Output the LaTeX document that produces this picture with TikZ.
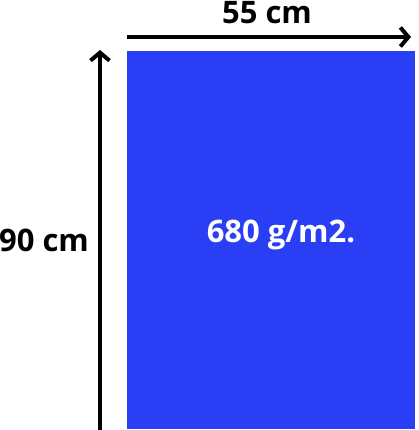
\documentclass[tikz,border=0pt]{standalone}
\usepackage{fontspec}
\setmainfont{Open Sans}
\usepackage{tikz}
\usetikzlibrary{arrows.meta}

\definecolor{sheetblue}{RGB}{42,62,245}
\tikzset{
  dimlabel/.style={font=\fontsize{31}{37}\selectfont\bfseries, inner sep=0pt, anchor=base},
  dimarrow/.style={line width=4pt, -{Straight Barb[length=8pt,width=19pt]}}
}

\begin{document}
\begin{tikzpicture}[x=1pt,y=1pt]
\useasboundingbox (0,0) rectangle (419,430);
\fill[sheetblue] (127,1) rectangle (415,379);

\coordinate (W0) at (127,393);
\coordinate (W1) at (411,393);
\coordinate (H0) at (100,0);
\coordinate (H1) at (100,380);

\draw[dimarrow](W0) to (W1);
\draw[dimarrow](H0) to (H1);

\node[dimlabel](width) at (267,406) {55 cm};
\node[dimlabel](height) at (44,178) {90 cm};
\node[dimlabel, text=white](weight) at (281,187) {680 g/m2.};
\end{tikzpicture}
\end{document}
